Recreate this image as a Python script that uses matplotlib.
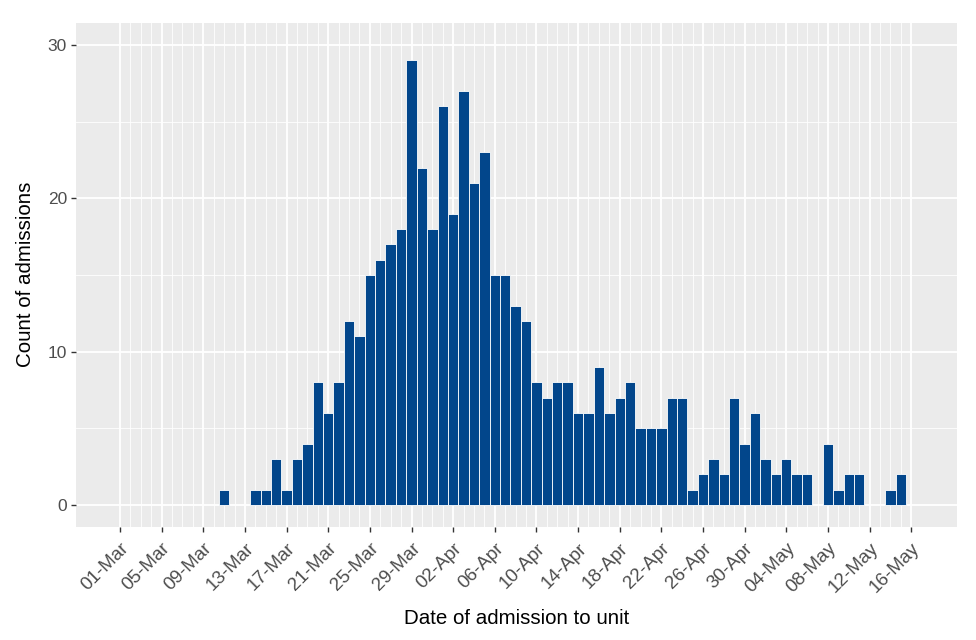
import matplotlib
matplotlib.use('Agg')
import matplotlib.pyplot as plt
import matplotlib.dates as mdates
from matplotlib.ticker import FixedLocator
import pandas as pd

# ---- data ----
start_date = '2020-03-11'
counts = [1, 0, 0, 1, 1, 3, 1, 3, 4, 8,
          6, 8, 12, 11, 15, 16, 17, 18, 29, 22,
          18, 26, 19, 27, 21, 23, 15, 15, 13, 12,
          8, 7, 8, 8, 6, 6, 9, 6, 7, 8,
          5, 5, 5, 7, 7, 1, 2, 3, 2, 7,
          4, 6, 3, 2, 3, 2, 2, 0, 4, 1,
          2, 2, 0, 0, 1, 2]
tick_labels = ['01-Mar', '05-Mar', '09-Mar', '13-Mar', '17-Mar', '21-Mar',
               '25-Mar', '29-Mar', '02-Apr', '06-Apr', '10-Apr', '14-Apr',
               '18-Apr', '22-Apr', '26-Apr', '30-Apr', '04-May', '08-May',
               '12-May', '16-May']
y_ticks = [0, 10, 20, 30]
y_minor = [5, 15, 25]
year = '2020'

bar_color = '#02468B'
panel_bg = '#EBEBEB'

dates = pd.date_range(start_date, periods=len(counts), freq='D')
xs = mdates.date2num(dates.to_pydatetime())
tick_dates = pd.to_datetime([t + '-' + year for t in tick_labels], format='%d-%b-%Y')
tick_x = mdates.date2num(tick_dates.to_pydatetime())
minor_x = [v for v in range(int(tick_x[0]), int(tick_x[-1]) + 1)]

plt.rcParams['font.family'] = ['Liberation Sans', 'DejaVu Sans']

fig = plt.figure(figsize=(9.76, 6.4), dpi=100)
ax = fig.add_axes([76 / 976, 1 - 526.7 / 640, (956.7 - 76) / 976, (526.7 - 22.7) / 640])
ax.set_facecolor(panel_bg)
for s in ax.spines.values():
    s.set_visible(False)

bx = [x for x, c in zip(xs, counts) if c > 0]
bc = [c for c in counts if c > 0]
ax.bar(bx, bc, width=1.0, color=bar_color, edgecolor='white', linewidth=0.6, zorder=3)

ax.set_xlim(tick_x[0] - 4.23, tick_x[0] + 80.37)
ax.set_ylim(-1.42, 31.46)

ax.xaxis.set_major_locator(FixedLocator(tick_x))
ax.xaxis.set_minor_locator(FixedLocator(minor_x))
ax.set_xticklabels(tick_labels, rotation=45, ha='right', va='top', rotation_mode='anchor')
ax.yaxis.set_major_locator(FixedLocator(y_ticks))
ax.yaxis.set_minor_locator(FixedLocator(y_minor))
ax.set_yticklabels([str(v) for v in y_ticks])

ax.grid(which='major', color='white', linewidth=1.3, zorder=0)
ax.grid(which='minor', color='white', linewidth=0.6, zorder=0)
ax.set_axisbelow(True)

ax.tick_params(which='major', length=3.5, width=1.0, color='#333333',
               labelcolor='#4D4D4D', pad=3)
ax.tick_params(axis='y', which='major', labelsize=12.5)
ax.tick_params(axis='x', which='major', labelsize=13.5, pad=6)
ax.tick_params(which='minor', length=0)

ax.set_xlabel('Date of admission to unit', fontsize=14.8, color='black', labelpad=9)
ax.set_ylabel('Count of admissions', fontsize=14.8, color='black', labelpad=9)

fig.savefig('out.png', dpi=100, facecolor='white')
